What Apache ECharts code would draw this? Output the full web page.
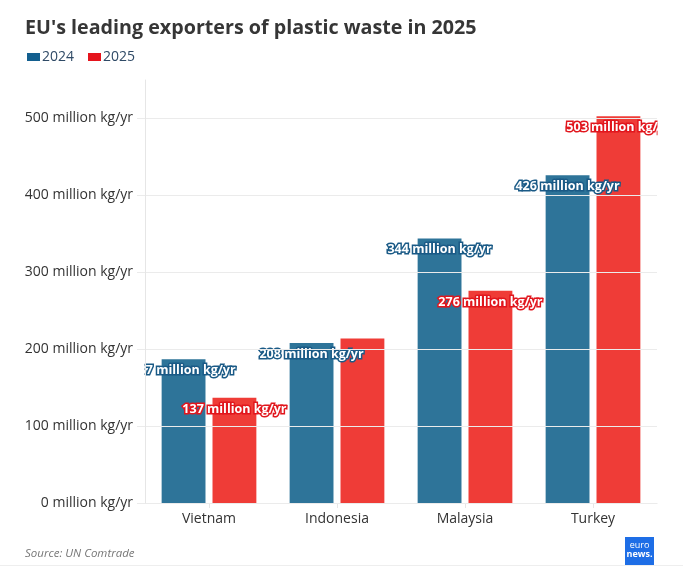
<!DOCTYPE html>
<html><head><meta charset="utf-8">
<script src="https://cdn.jsdelivr.net/npm/echarts@6/dist/echarts.min.js"></script>
<style>html,body{margin:0;padding:0;background:#fff}#c{width:683px;height:587px}</style>
</head><body><div id="c"></div>
<script>
const categories = ['Vietnam', 'Indonesia', 'Malaysia', 'Turkey'];
const values2024 = [187, 208, 344, 426];
const values2025 = [137, 214, 276, 503];
const yTicks = [0, 100, 200, 300, 400, 500];
const seriesNames = ['2024', '2025'];
const hiddenLabels2025 = ['Indonesia'];
const unit = ' million kg/yr';

const FONT = 'Open Sans';
const G = { left: 145, right: 26, top: 80, bottom: 84 };
const W = 683, H = 587;
const barColors = ['#2e7499', '#ef3c37'];
const legendColors = ['#135f8f', '#e5141d'];
const strokeColors = ['#1a5a86', '#e1161d'];

function makeLabel(i) {
  return {
    show: true, position: 'insideTop', distance: 5,
    formatter: p => p.value + unit,
    color: '#fff', fontFamily: FONT, fontWeight: 'bold', fontSize: 12.5,
    textBorderColor: strokeColors[i], textBorderWidth: 3
  };
}

const chart = echarts.init(document.getElementById('c'), null, { renderer: 'canvas' });
chart.setOption({
  animation: false,
  backgroundColor: '#fff',
  title: {
    text: "EU's leading exporters of plastic waste in 2025",
    left: 20, top: 13,
    textStyle: { fontFamily: FONT, fontSize: 19.7, fontWeight: 'bold', color: '#363636' }
  },
  legend: {
    left: 22, top: 45, itemWidth: 13, itemHeight: 8, itemGap: 14, icon: 'rect',
    textStyle: { fontFamily: FONT, fontSize: 14, color: '#2f4a66', padding: [0, 0, 0, -3] },
    data: seriesNames.map((n, i) => ({ name: n, itemStyle: { color: legendColors[i] } }))
  },
  grid: { left: G.left, right: G.right, top: G.top, bottom: G.bottom, containLabel: false },
  xAxis: {
    type: 'category', data: categories,
    axisLine: { show: true, lineStyle: { color: '#e6e6e6' } },
    axisTick: { show: true, alignWithLabel: true, length: 5, lineStyle: { color: '#e6e6e6' } },
    axisLabel: { fontFamily: FONT, fontSize: 14, color: '#333', margin: 9 }
  },
  yAxis: {
    type: 'value', min: 0, max: 550, interval: 100, z: 20,
    axisLine: { show: true, lineStyle: { color: '#e6e6e6' } },
    axisTick: { show: true, length: 8, customValues: yTicks, lineStyle: { color: '#ebebeb' } },
    axisLabel: { customValues: yTicks, fontFamily: FONT, fontSize: 14, color: '#333', margin: 12,
      formatter: v => v + unit },
    splitLine: { show: true, lineStyle: { color: ['#ebebeb','#ebebeb','#ebebeb','#ebebeb','#ebebeb','#ebebeb','rgba(0,0,0,0)'] } }
  },
  series: [
    {
      name: seriesNames[0], type: 'bar', data: values2024,
      itemStyle: { color: barColors[0] },
      barCategoryGap: '26%', barGap: '16%',
      label: makeLabel(0)
    },
    {
      name: seriesNames[1], type: 'bar',
      data: values2025.map((v, i) => hiddenLabels2025.includes(categories[i]) ? { value: v, label: { show: false } } : v),
      itemStyle: { color: barColors[1] },
      barCategoryGap: '26%', barGap: '16%',
      label: makeLabel(1)
    }
  ],
  graphic: [
    { type: 'rect', z: 10, silent: true, shape: { x: 0, y: G.top, width: G.left - 0.5, height: H - G.top - G.bottom }, style: { fill: '#fff' } },
    { type: 'rect', z: 10, silent: true, shape: { x: W - G.right + 0.5, y: G.top, width: G.right, height: H - G.top - G.bottom }, style: { fill: '#fff' } },
    { type: 'text', left: 25, top: 548, style: { text: 'Source: UN Comtrade', fontFamily: FONT, fontStyle: 'italic', fontSize: 11.5, fill: '#777' } },
    { type: 'rect', z: 5, shape: { x: 0, y: 565, width: W, height: 1 }, style: { fill: '#eeeeee' } },
    { type: 'group', left: 625, top: 537, z: 6, children: [
      { type: 'rect', shape: { x: 0, y: 0, width: 29, height: 28 }, style: { fill: '#1e6ee6' } },
      { type: 'text', x: 14.5, y: 4, style: { text: 'euro', fontFamily: FONT, fontSize: 9, fill: '#fff', align: 'center' } },
      { type: 'text', x: 14.5, y: 13, style: { text: 'news.', fontFamily: FONT, fontSize: 9, fontWeight: 'bold', fill: '#fff', align: 'center' } }
    ] }
  ]
});
</script></body></html>
